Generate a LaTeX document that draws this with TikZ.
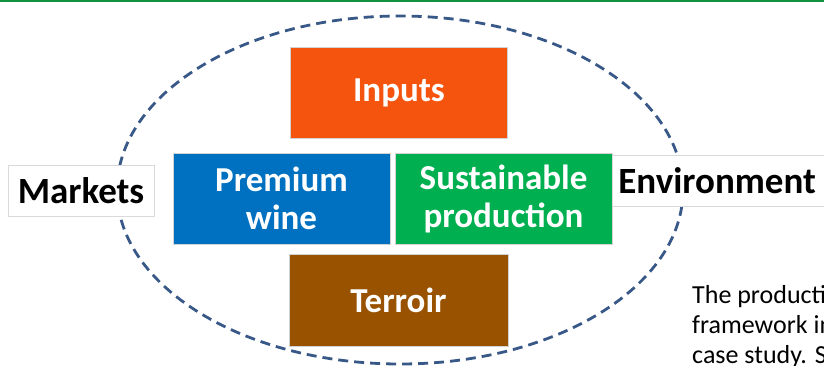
\documentclass[tikz,border=0pt]{standalone}
\usepackage{fontspec}
\setmainfont{Carlito}
\definecolor{inputsorange}{RGB}{245,84,14}
\definecolor{wineblue}{RGB}{0,112,192}
\definecolor{sustgreen}{RGB}{0,176,80}
\definecolor{terroirbrown}{RGB}{153,82,0}
\definecolor{ringblue}{RGB}{56,88,135}
\definecolor{topgreen}{RGB}{16,145,66}
\tikzset{
  block/.style={draw=gray!35,line width=0.8pt,text=white,align=center,
    font=\fontsize{35}{38}\selectfont\bfseries,minimum width=217pt,minimum height=91pt,inner sep=0pt},
  tag/.style={draw=gray!30,line width=0.8pt,fill=white,font=\fontsize{37}{40}\selectfont\bfseries,
    minimum height=51pt,inner sep=0pt}
}
\begin{document}
\begin{tikzpicture}[x=1pt,y=-1pt]
\useasboundingbox (0,0) rectangle (824,366);
\clip (0,0) rectangle (824,366);
\fill[topgreen] (0,0) rectangle (824,2.5);
% dashed ring behind everything
\draw[ringblue,line width=2.8pt,dash pattern=on 10pt off 6pt] (400,190) ellipse [x radius=283,y radius=174];
\node[block,fill=inputsorange] (inputs) at (399,92.5) {Inputs};
\node[block,fill=wineblue] (premium) at (281.5,198.5) {Premium\\wine};
\node[block,fill=sustgreen] (sustainable) at (503.5,198.5) {Sustainable\\production};
\node[block,fill=terroirbrown,minimum width=219pt,minimum height=92pt] (terroir) at (398.5,300) {Terroir};
\node[tag,minimum width=146pt] (markets) at (81,190.5) {Markets};
\node[tag,anchor=west,text width=204pt,align=left,inner xsep=6pt] (environment) at (612,180.5) {Environment};
\node[anchor=base west,align=left,inner sep=0pt,font=\fontsize{26}{30}\selectfont] (caption) at (692,363) {The producti\\framework in\\case study. S};
\end{tikzpicture}
\end{document}
